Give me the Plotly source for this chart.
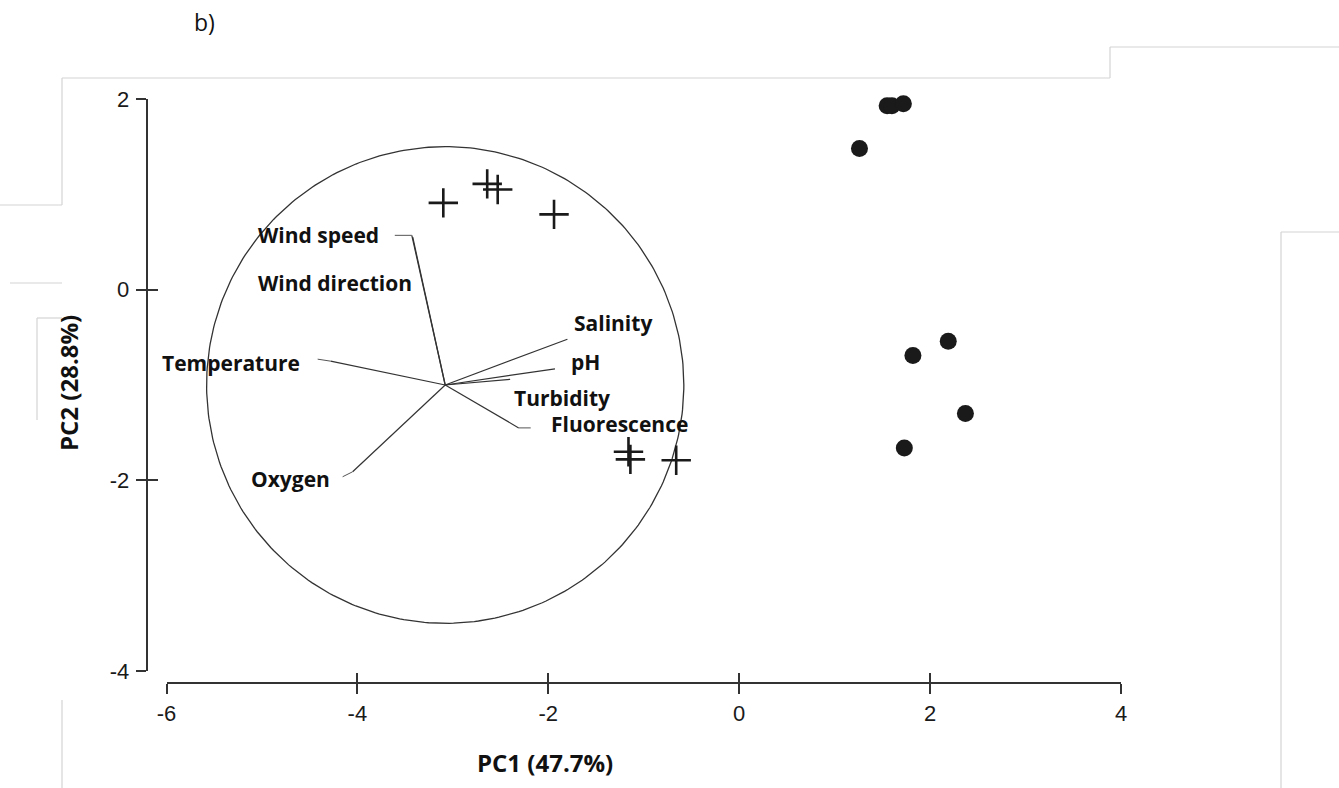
import numpy as np
import plotly.graph_objects as go

# ---------------- data ----------------
group1_pc1 = [-3.10, -2.64, -2.53, -1.94, -1.16, -1.14, -0.66]
group1_pc2 = [0.91, 1.11, 1.05, 0.79, -1.70, -1.78, -1.79]

group2_pc1 = [1.55, 1.60, 1.72, 1.26, 2.19, 1.82, 2.37, 1.73]
group2_pc2 = [1.93, 1.93, 1.95, 1.48, -0.54, -0.69, -1.30, -1.66]

variables = ["Wind speed", "Wind direction", "Temperature", "Oxygen",
             "Salinity", "pH", "Turbidity", "Fluorescence"]
load_pc1 = [-0.35, -0.34, -1.20, -0.97, 1.28, 1.15, 0.68, 0.77]
load_pc2 = [1.57, 1.55, 0.25, -0.91, 0.48, 0.17, 0.06, -0.45]

origin_pc1 = -3.08
origin_pc2 = -1.00
circle_radius = 2.50

x_ticks = [-6, -4, -2, 0, 2, 4]
x_tick_text = ["-6", "-4", "-2", "0", "2", "4"]
y_ticks = [-4, -2, 0, 2]
y_tick_text = ["-4", "-2", "0", "2"]
x_title = "PC1 (47.7%)"
y_title = "PC2 (28.8%)"
panel_label = "b)"

# ---------------- layout helpers ----------------
W, H = 1339, 788
PX_X = 95.45   # pixels per unit (x)
PX_Y = 95.33   # pixels per unit (y)


def px(x):
    return x / W


def py(y):
    return 1 - y / H


# label placement (pixel shifts relative to vector tip), leader offsets in px
label_style = {
    "Wind speed":     dict(xanchor="right", xshift=-31, yshift=0,   leader=(-17, 0)),
    "Wind direction": dict(xanchor="right", xshift=1,   yshift=-46, leader=None),
    "Temperature":    dict(xanchor="right", xshift=-29, yshift=-2,  leader=(-13, 2)),
    "Oxygen":         dict(xanchor="right", xshift=-21, yshift=-7,  leader=(-10, -5)),
    "Salinity":       dict(xanchor="left",  xshift=5,   yshift=16,  leader=None),
    "pH":             dict(xanchor="left",  xshift=14,  yshift=7,   leader=None),
    "Turbidity":      dict(xanchor="left",  xshift=2,   yshift=-19, leader=None),
    "Fluorescence":   dict(xanchor="left",  xshift=30,  yshift=4,   leader=(12, 0)),
}

INK = "#1a1a1a"
LINE = "#333333"
LABEL_FONT = dict(family="Open Sans", size=21, color="#111111")
TITLE_FONT = dict(family="Open Sans", size=24, color="#111111")
TICK_FONT = dict(family="Liberation Sans", size=22, color="#1a1a1a")

fig = go.Figure()

# correlation circle
theta = np.linspace(0, 2 * np.pi, 361)
fig.add_trace(go.Scatter(
    x=origin_pc1 + circle_radius * np.cos(theta),
    y=origin_pc2 + circle_radius * np.sin(theta),
    mode="lines", line=dict(color=LINE, width=1.3),
    hoverinfo="skip", showlegend=False, cliponaxis=False))

# loading vectors + leaders
vx, vy = [], []
lx, ly = [], []
tips = []
for name, a, b in zip(variables, load_pc1, load_pc2):
    tx, ty = origin_pc1 + a, origin_pc2 + b
    tips.append((tx, ty))
    vx += [origin_pc1, tx, None]
    vy += [origin_pc2, ty, None]
    ld = label_style[name]["leader"]
    if ld is not None:
        lx += [tx, tx + ld[0] / PX_X, None]
        ly += [ty, ty + ld[1] / PX_Y, None]

fig.add_trace(go.Scatter(x=vx, y=vy, mode="lines",
                         line=dict(color=LINE, width=1.2),
                         hoverinfo="skip", showlegend=False, cliponaxis=False))
fig.add_trace(go.Scatter(x=lx, y=ly, mode="lines",
                         line=dict(color="#555555", width=1.0),
                         hoverinfo="skip", showlegend=False, cliponaxis=False))

# scores
fig.add_trace(go.Scatter(
    x=group1_pc1, y=group1_pc2, mode="markers",
    marker=dict(symbol="cross-thin", size=21, line=dict(color=INK, width=2.6)),
    showlegend=False, cliponaxis=False))
fig.add_trace(go.Scatter(
    x=group2_pc1, y=group2_pc2, mode="markers",
    marker=dict(symbol="circle", size=17, color=INK, line=dict(width=0)),
    showlegend=False, cliponaxis=False))

# invisible trace to make the overlay axes exist (crossing ticks)
fig.add_trace(go.Scatter(x=[None], y=[None], xaxis="x2", yaxis="y2",
                         showlegend=False, hoverinfo="skip"))

annotations = []
for name, (tx, ty) in zip(variables, tips):
    st = label_style[name]
    annotations.append(dict(
        x=tx, y=ty, xref="x", yref="y", text="<b>%s</b>" % name,
        showarrow=False, xanchor=st["xanchor"], yanchor="middle",
        xshift=st["xshift"], yshift=st["yshift"], font=LABEL_FONT))

annotations += [
    dict(x=px(545), y=py(762), xref="paper", yref="paper",
         text="<b>%s</b>" % x_title, showarrow=False,
         xanchor="center", yanchor="middle", font=TITLE_FONT),
    dict(x=px(68), y=py(383), xref="paper", yref="paper",
         text="<b>%s</b>" % y_title, showarrow=False, textangle=-90,
         xanchor="center", yanchor="middle", font=TITLE_FONT),
    dict(x=px(204), y=py(22), xref="paper", yref="paper",
         text=panel_label, showarrow=False,
         xanchor="center", yanchor="middle",
         font=dict(family="Open Sans", size=23, color="#111111")),
]

# faint frame lines from the scanned page
frame_segments = [
    ((62, 78), (1110, 78)), ((1110, 78), (1110, 47)), ((1110, 47), (1339, 47)),
    ((1281, 788), (1281, 232)), ((1281, 232), (1339, 232)),
    ((0, 205), (62, 205)), ((62, 205), (62, 78)),
    ((10, 283), (62, 283)), ((37, 318), (62, 318)), ((37, 318), (37, 420)),
    ((62, 700), (62, 788)),
]
shapes = []
for (x0, y0), (x1, y1) in frame_segments:
    shapes.append(dict(type="line", xref="paper", yref="paper",
                       x0=px(x0), y0=py(y0), x1=px(x1), y1=py(y1),
                       line=dict(color="#d4d4d4", width=1.2)))

x_dom = [px(166.5), px(1121)]
y_dom = [py(671), py(99)]

common_x = dict(range=[-6, 4], domain=x_dom, tickvals=x_ticks, ticktext=x_tick_text,
                showgrid=False, zeroline=False, fixedrange=True)
common_y = dict(range=[-4, 2], domain=y_dom, tickvals=y_ticks, ticktext=y_tick_text,
                showgrid=False, zeroline=False, fixedrange=True)

fig.update_layout(
    width=W, height=H,
    margin=dict(l=0, r=0, t=0, b=0),
    paper_bgcolor="white", plot_bgcolor="white",
    xaxis=dict(**common_x, anchor="free", position=py(683.3),
               showline=True, linecolor=LINE, linewidth=2,
               ticks="outside", ticklen=10, tickwidth=1.5, tickcolor=LINE,
               tickfont=TICK_FONT, automargin=False),
    yaxis=dict(**common_y, anchor="free", position=px(146.7),
               showline=True, linecolor=LINE, linewidth=2,
               ticks="outside", ticklen=10, tickwidth=1.5, tickcolor=LINE,
               tickfont=TICK_FONT, automargin=False, ticklabelstandoff=2),
    xaxis2=dict(**common_x, overlaying="x", anchor="free", position=py(683.3),
                showline=False, ticks="inside", ticklen=10, tickwidth=1.5,
                tickcolor=LINE, showticklabels=False),
    yaxis2=dict(**common_y, overlaying="y", anchor="free", position=px(146.7),
                showline=False, ticks="inside", ticklen=10, tickwidth=1.5,
                tickcolor=LINE, showticklabels=False),
    annotations=annotations,
    shapes=shapes,
    showlegend=False,
)

fig.write_html("out.html")
